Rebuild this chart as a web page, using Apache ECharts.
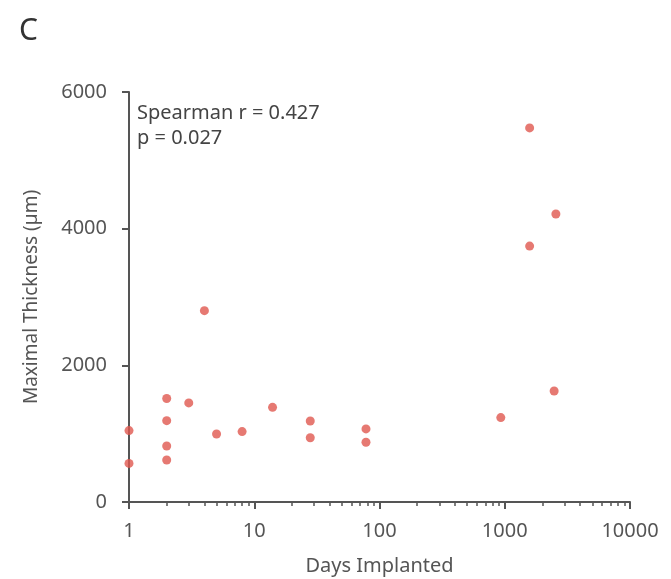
<!DOCTYPE html>
<html>
<head>
<meta charset="utf-8">
<script src="https://cdn.jsdelivr.net/npm/echarts@6/dist/echarts.min.js"></script>
<style>
  html, body { margin: 0; padding: 0; background: #fff; }
  #chart { width: 671px; height: 579px; }
</style>
</head>
<body>
<div id="chart"></div>
<script>
// days implanted vs maximal thickness
const days = [1, 1, 2, 2, 2, 2, 3, 4, 5, 8, 14, 28, 28, 78, 78, 930, 1580, 1580, 2480, 2560];
const thickness = [1045, 565, 1515, 1190, 820, 615, 1450, 2800, 995, 1030, 1385, 1185, 940, 1070, 875, 1235, 5475, 3745, 1625, 4215];

const xMajorTicks = [1, 10, 100, 1000, 10000];
const xMinorTicks = [2, 3, 4, 5, 6, 7, 8, 9, 20, 30, 40, 50, 60, 70, 80, 90,
  200, 300, 400, 500, 600, 700, 800, 900, 2000, 3000, 4000, 5000, 6000, 7000, 8000, 9000];
const yTicks = [0, 2000, 4000, 6000];

const axisColor = '#555';
const textColor = '#555';
const font = 'Noto Sans';

const chart = echarts.init(document.getElementById('chart'));

chart.setOption({
  backgroundColor: '#fff',
  animation: false,
  title: {
    text: 'C',
    left: 14,
    top: 11,
    textStyle: { fontFamily: font, fontSize: 30, fontWeight: 'normal', color: '#333' }
  },
  grid: { left: 129, right: 41, top: 92, bottom: 77, outerBoundsMode: 'none' },
  xAxis: [
    {
      type: 'log',
      logBase: 10,
      min: 1,
      max: 10000,
      name: 'Days Implanted',
      nameLocation: 'middle',
      nameGap: 54,
      nameTextStyle: { fontFamily: font, fontSize: 20, color: textColor },
      axisLine: { show: true, lineStyle: { color: axisColor, width: 2 } },
      axisTick: { show: true, length: 7, customValues: xMajorTicks, lineStyle: { color: axisColor, width: 2 } },
      axisLabel: {
        customValues: xMajorTicks,
        formatter: (v) => String(v),
        fontFamily: font, fontSize: 20, color: textColor, margin: 19
      },
      splitLine: { show: false }
    },
    {
      type: 'log',
      logBase: 10,
      min: 1,
      max: 10000,
      position: 'bottom',
      axisLine: { show: false },
      axisTick: { show: true, length: 4, customValues: xMinorTicks, lineStyle: { color: axisColor, width: 1.5 } },
      axisLabel: { show: false },
      splitLine: { show: false }
    }
  ],
  yAxis: {
    type: 'value',
    min: 0,
    max: 6000,
    interval: 2000,
    name: 'Maximal Thickness (\u00b5m)',
    nameLocation: 'middle',
    nameGap: 88,
    nameTextStyle: { fontFamily: font, fontSize: 19, color: textColor },
    axisLine: { show: true, lineStyle: { color: axisColor, width: 2 } },
    axisTick: { show: true, length: 7, customValues: yTicks, lineStyle: { color: axisColor, width: 2 } },
    axisLabel: {
      formatter: (v) => String(v),
      fontFamily: font, fontSize: 20, color: textColor, margin: 22
    },
    splitLine: { show: false }
  },
  graphic: [
    {
      type: 'text',
      left: 137,
      top: 101,
      style: {
        text: 'Spearman r = 0.427\np = 0.027',
        fontFamily: font,
        fontSize: 20,
        lineHeight: 25,
        fill: '#444'
      }
    }
  ],
  series: [
    {
      type: 'scatter',
      xAxisIndex: 0,
      symbol: 'circle',
      symbolSize: 9,
      itemStyle: { color: '#e0574f' },
      data: days.map((d, i) => [d, thickness[i]])
    }
  ]
});

window.addEventListener('resize', () => chart.resize());
</script>
</body>
</html>
